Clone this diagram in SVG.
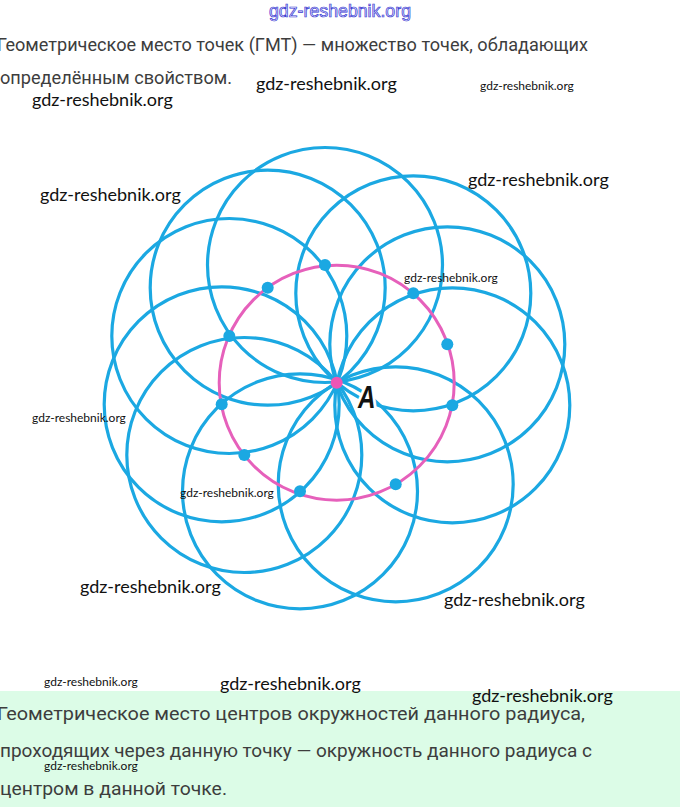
<svg xmlns="http://www.w3.org/2000/svg" width="680" height="807" viewBox="0 0 680 807">
<style>
.body{font-family:Roboto,"Noto Sans",sans-serif;font-size:18.5px;fill:#3d3d3d}
.wm{font-family:Lato,"Liberation Sans",sans-serif;font-size:18px;fill:#111}
.wms{font-family:Lato,"Liberation Sans",sans-serif;font-size:12px;fill:#111}
.bc{fill:none;stroke:#1ba8e2;stroke-width:3.2}
.dot{fill:#1ba8e2}
</style>
<rect x="0" y="0" width="680" height="807" fill="#ffffff"/>
<rect x="0" y="691" width="680" height="116" fill="#dcfce7"/>
<text x="340" y="17" text-anchor="middle" font-family="'Liberation Sans',sans-serif" font-size="17.5" fill="#e0e0ff" stroke="#3a3ad0" stroke-width="0.7" textLength="142" lengthAdjust="spacingAndGlyphs">gdz-reshebnik.org</text>
<text class="body" x="-3" y="51" textLength="591" lengthAdjust="spacingAndGlyphs">Геометрическое место точек (ГМТ) — множество точек, обладающих</text>
<text class="body" x="0" y="84" textLength="232" lengthAdjust="spacingAndGlyphs">определённым свойством.</text>
<g id="circles">
<circle class="bc" cx="325" cy="265" r="117.5"/>
<circle class="bc" cx="267.7" cy="287.7" r="117.5"/>
<circle class="bc" cx="413.3" cy="293.3" r="117.5"/>
<circle class="bc" cx="229.3" cy="336" r="117.5"/>
<circle class="bc" cx="447.3" cy="344.3" r="117.5"/>
<circle class="bc" cx="221.7" cy="404.3" r="117.5"/>
<circle class="bc" cx="452.3" cy="405.3" r="117.5"/>
<circle class="bc" cx="244.3" cy="455" r="117.5"/>
<circle class="bc" cx="395.7" cy="484.3" r="117.5"/>
<circle class="bc" cx="300" cy="491.3" r="117.5"/>
</g>
<g id="locus">
<circle cx="336.7" cy="382.7" r="117.5" fill="none" stroke="#e660bb" stroke-width="3"/>
</g>
<g id="centers">
<circle class="dot" cx="325" cy="265" r="6"/>
<circle class="dot" cx="267.7" cy="287.7" r="6"/>
<circle class="dot" cx="413.3" cy="293.3" r="6"/>
<circle class="dot" cx="229.3" cy="336" r="6"/>
<circle class="dot" cx="447.3" cy="344.3" r="6"/>
<circle class="dot" cx="221.7" cy="404.3" r="6"/>
<circle class="dot" cx="452.3" cy="405.3" r="6"/>
<circle class="dot" cx="244.3" cy="455" r="6"/>
<circle class="dot" cx="395.7" cy="484.3" r="6"/>
<circle class="dot" cx="300" cy="491.3" r="6"/>
</g>
<g id="pointA">
<circle cx="336.7" cy="382.7" r="6" fill="#ee55b5"/>
<text x="358" y="408" transform="translate(358 408) scale(0.78 1) translate(-358 -408)" font-family="'Liberation Sans',sans-serif" font-weight="bold" font-style="italic" font-size="31" fill="#111" stroke="#fff" stroke-width="7" paint-order="stroke" stroke-linejoin="round">A</text>
</g>
<g id="watermarks">
<text class="wm" x="256" y="90">gdz-reshebnik.org</text>
<text class="wms" x="480" y="90">gdz-reshebnik.org</text>
<text class="wm" x="32" y="106">gdz-reshebnik.org</text>
<text class="wm" x="40" y="201">gdz-reshebnik.org</text>
<text class="wm" x="468" y="186">gdz-reshebnik.org</text>
<text class="wms" x="404" y="282">gdz-reshebnik.org</text>
<text class="wms" x="32" y="422">gdz-reshebnik.org</text>
<text class="wms" x="180" y="497">gdz-reshebnik.org</text>
<text class="wm" x="80" y="593">gdz-reshebnik.org</text>
<text class="wm" x="444" y="606">gdz-reshebnik.org</text>
<text class="wms" x="44" y="686">gdz-reshebnik.org</text>
<text class="wm" x="220" y="690">gdz-reshebnik.org</text>
<text class="wm" x="472" y="702">gdz-reshebnik.org</text>
</g>
<text class="body" x="-3" y="720" textLength="588" lengthAdjust="spacingAndGlyphs">Геометрическое место центров окружностей данного радиуса,</text>
<text class="body" x="0" y="757" textLength="592" lengthAdjust="spacingAndGlyphs">проходящих через данную точку — окружность данного радиуса с</text>
<text class="body" x="0" y="795" textLength="227" lengthAdjust="spacingAndGlyphs">центром в данной точке.</text>
<text class="wms" x="44" y="770">gdz-reshebnik.org</text>
</svg>
